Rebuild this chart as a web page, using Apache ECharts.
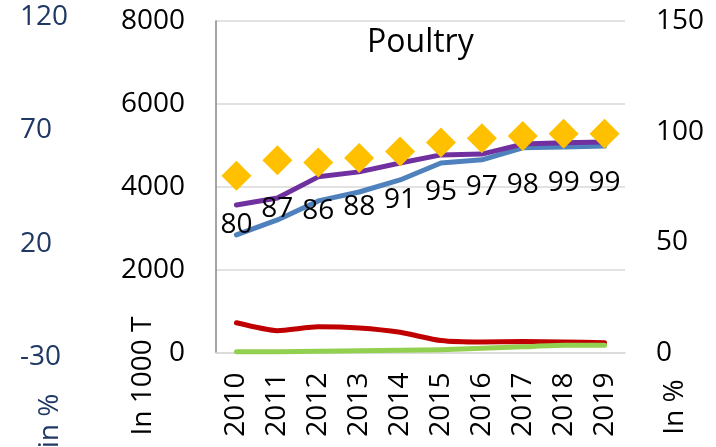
<!DOCTYPE html>
<html>
<head>
<meta charset="utf-8">
<script src="https://cdn.jsdelivr.net/npm/echarts@6/dist/echarts.min.js"></script>
<style>
  html, body { margin: 0; padding: 0; background: #fff; }
  #chartLine { width: 716px; height: 447px; }
</style>
</head>
<body>
<div id="chartLine"></div>
<script>
  // data (left axis in 1000 T, diamonds in %)
  var years = ['2010', '2011', '2012', '2013', '2014', '2015', '2016', '2017', '2018', '2019']
  var purpleLine = [3560, 3730, 4240, 4360, 4575, 4770, 4790, 5030, 5060, 5080]
  var blueLine = [2840, 3200, 3660, 3875, 4165, 4575, 4650, 4940, 4960, 4985]
  var redLine = [720, 530, 625, 595, 490, 290, 255, 270, 255, 240]
  var greenLine = [20, 22, 30, 45, 55, 70, 105, 140, 175, 175]
  var selfSuff = [80, 87, 86, 88, 91, 95, 97, 98, 99, 99]
  var leftTicks = [0, 2000, 4000, 6000, 8000]
  var rightTicks = [0, 50, 100, 150]
  var outerTicks = [-30, 20, 70, 120]

  var font = '"Open Sans", "Noto Sans", sans-serif'
  var plain = function (v) { return String(v) }
  var myChart = echarts.init(document.getElementById('chartLine'))

  myChart.setOption({
    animation: false,
    textStyle: { fontFamily: font },
    title: {
      text: 'Poultry',
      left: 362,
      top: 22,
      textStyle: { fontSize: 32, fontWeight: 'normal', color: '#000', fontFamily: font }
    },
    grid: [
      { left: 216, right: 91, top: 21, bottom: 94.4 },
      { left: 216, right: 91, top: 17, bottom: 90 }
    ],
    xAxis: [
      {
        type: 'category',
        gridIndex: 0,
        data: years,
        boundaryGap: true,
        axisLine: { lineStyle: { color: '#d9d9d9', width: 1.5 } },
        axisTick: { show: false },
        axisLabel: { rotate: 90, margin: 20, fontSize: 28, color: '#000', fontFamily: font, interval: 0 }
      },
      { type: 'category', gridIndex: 1, data: years, show: false }
    ],
    yAxis: [
      {
        type: 'value',
        gridIndex: 0,
        min: leftTicks[0],
        max: leftTicks[leftTicks.length - 1],
        interval: 2000,
        axisLine: { show: true, lineStyle: { color: '#868686', width: 1.5 } },
        axisTick: { show: false },
        splitLine: { lineStyle: { color: '#d9d9d9', width: 1.5 } },
        axisLabel: { margin: 31, fontSize: 28, color: '#000', fontFamily: font, formatter: plain }
      },
      {
        type: 'value',
        gridIndex: 0,
        position: 'right',
        min: rightTicks[0],
        max: rightTicks[rightTicks.length - 1],
        interval: 50,
        axisLine: { show: false },
        axisTick: { show: false },
        splitLine: { show: false },
        axisLabel: { margin: 31, fontSize: 28, color: '#000', fontFamily: font, formatter: plain }
      },
      {
        type: 'value',
        gridIndex: 1,
        position: 'left',
        offset: 204,
        min: outerTicks[0],
        max: outerTicks[outerTicks.length - 1],
        interval: 50,
        axisLine: { show: false },
        axisTick: { show: false },
        splitLine: { show: false },
        axisLabel: { inside: true, margin: 8, fontSize: 28, color: '#1f3864', fontFamily: font, formatter: plain }
      }
    ],
    graphic: [
      {
        type: 'text', x: 143, y: 376, rotation: Math.PI / 2,
        style: { text: 'In 1000 T', font: '28px ' + font, fill: '#000', align: 'center', verticalAlign: 'middle' }
      },
      {
        type: 'text', x: 675, y: 407, rotation: Math.PI / 2,
        style: { text: 'In %', font: '28px ' + font, fill: '#000', align: 'center', verticalAlign: 'middle' }
      },
      {
        type: 'text', x: 50, y: 421, rotation: Math.PI / 2,
        style: { text: 'in %', font: '28px ' + font, fill: '#1f3864', align: 'center', verticalAlign: 'middle' }
      }
    ],
    series: [
      {
        name: 'blue', type: 'line', data: blueLine, symbol: 'none',
        lineStyle: { color: '#4f81bd', width: 5, cap: 'round', join: 'round' }
      },
      {
        name: 'purple', type: 'line', data: purpleLine, symbol: 'none',
        lineStyle: { color: '#7030a0', width: 5, cap: 'round', join: 'round' }
      },
      {
        name: 'red', type: 'line', data: redLine, symbol: 'none', smooth: 0.2,
        lineStyle: { color: '#c00000', width: 5, cap: 'round', join: 'round' }
      },
      {
        name: 'green', type: 'line', data: greenLine, symbol: 'none', smooth: 0.2,
        lineStyle: { color: '#92d050', width: 5, cap: 'round', join: 'round' }
      },
      {
        name: 'self', type: 'line', yAxisIndex: 1, data: selfSuff,
        symbol: 'diamond', symbolSize: 30,
        lineStyle: { width: 0, opacity: 0 },
        itemStyle: { color: '#ffc000' },
        label: {
          show: true, position: 'inside', offset: [0, 49],
          fontSize: 28, color: '#000', fontFamily: font
        },
        z: 5
      }
    ]
  })
</script>
</body>
</html>
